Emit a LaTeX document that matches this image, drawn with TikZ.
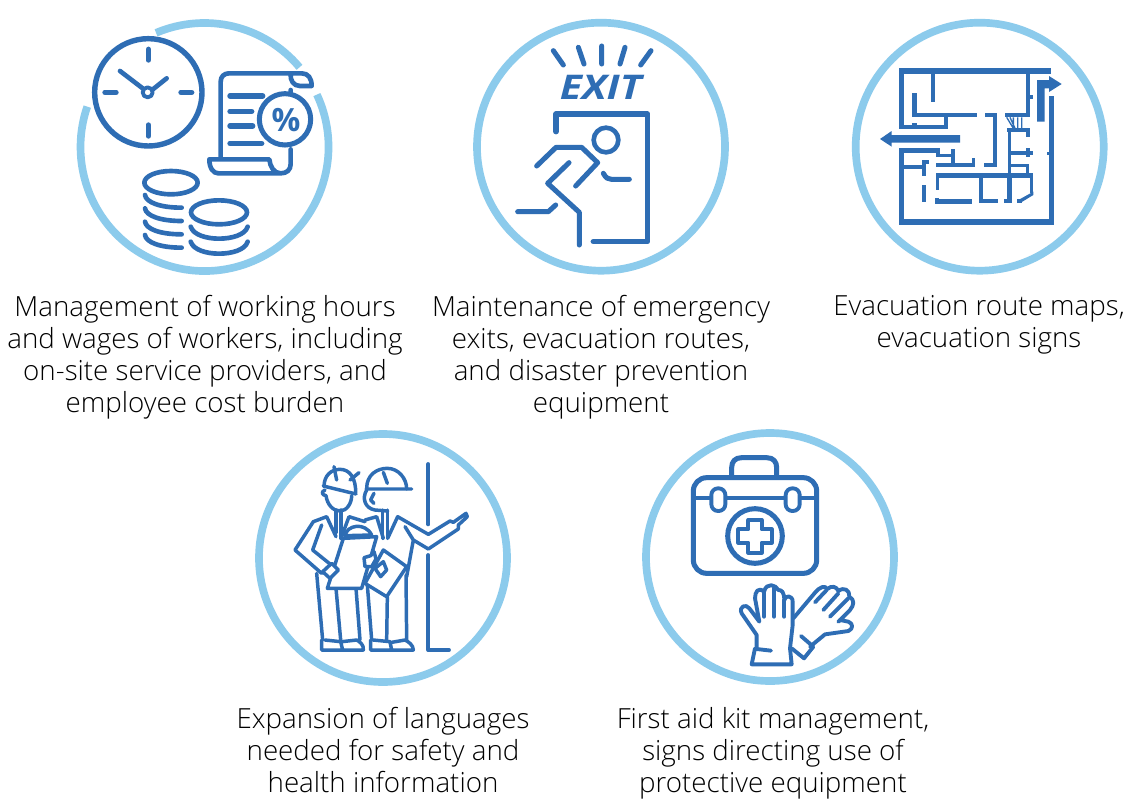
\documentclass[tikz,border=0pt]{standalone}
\usepackage{graphicx}
\usepackage{fontspec}
\setmainfont{Open Sans Light}[BoldFont={Open Sans Bold},BoldItalicFont={Open Sans Bold Italic}]
\definecolor{ic}{HTML}{2E6DB4}
\definecolor{rg}{HTML}{8CCBEC}
\tikzset{
 ring/.style={draw=rg,line width=5.75pt},
 ln/.style={draw=ic,line cap=round,line join=round,line width=#1*0.29pt},
 ln/.default=12,
 wall/.style={fill=ic},
 captxt/.style={align=center,anchor=center,font=\fontsize{20.8pt}{24pt}\selectfont,text=black,inner sep=0pt},
 icon/.style={x=0.25pt,y=-0.25pt}
}
\begin{document}
\begin{tikzpicture}[x=0.75pt,y=-0.75pt]
\useasboundingbox[fill=white] (0,0) rectangle (1126,803);
% rings
\coordinate (c1) at (204.5,147);
\draw[ring] ([shift={(-113:124)}]c1) arc[start angle=-113,end angle=-40,radius=124];
\draw[ring] ([shift={(-25:124)}]c1) arc[start angle=-25,end angle=199,radius=124];
\node[circle,ring,minimum size=186pt,inner sep=0pt] (r2) at (601,146.7) {};
\node[circle,ring,minimum size=186pt,inner sep=0pt] (r3) at (979.7,146.7) {};
\node[circle,ring,minimum size=186pt,inner sep=0pt] (r4) at (383,558) {};
\node[circle,ring,minimum size=186pt,inner sep=0pt] (r5) at (770,557) {};
% icon 1
\begin{scope}[shift={(70,10)},icon]
\draw[ln=14] (235,247) circle[radius=161];
\draw[ln=14] (235,118)--(235,150) (235,345)--(235,378) (105,247)--(138,247) (333,247)--(365,247);
\draw[ln=12] (150,183)--(218,235) (290,205)--(250,237);
\draw[ln=10] (233,247) circle[radius=15];
\draw[ln=12] (452,442)--(452,215) .. controls (452,200) and (462,190) .. (477,190)--(695,190) .. controls (715,190) and (725,205) .. (725,228)--(690,228) .. controls (670,228) and (660,210) .. (662,192);
\draw[ln=12] (662,240)--(662,250) (662,418)--(662,462) .. controls (662,480) and (650,490) .. (632,490)--(445,490) .. controls (430,490) and (418,475) .. (418,448)--(598,448) .. controls (600,470) and (612,490) .. (632,490);
\draw[ln=13] (645,328) circle[radius=77];
\node[font=\bfseries\fontsize{24pt}{24pt}\selectfont,text=ic,inner sep=0pt] (pct) at (648,330) {\%};
\draw[ln=14] (480,258)--(578,258) (480,304)--(545,304) (480,348)--(548,348) (480,400)--(575,400);
\draw[ln=12] (303,518) ellipse[x radius=80,y radius=35];
\foreach \y in {555,595,635,675}{
 \draw[ln=12] (225,\y) .. controls (228,\y+22) and (270,\y+38) .. (335,\y+38);}
\draw[ln=12] (447,607) ellipse[x radius=84,y radius=36];
\foreach \y in {650,695}{
 \draw[ln=12] (362,\y) .. controls (370,\y+25) and (410,\y+36) .. (447,\y+36) .. controls (485,\y+36) and (525,\y+25) .. (533,\y);}
\end{scope}
% icon 2
\begin{scope}[shift={(470,10)},icon]
\draw[ln=13] (250,122)--(280,165) (325,112)--(342,162) (395,108)--(395,162) (465,112)--(450,162) (543,122)--(512,165);
\node[font=\bfseries\itshape\fontsize{25.5pt}{25.5pt}\selectfont,text=ic,inner sep=0pt] (exit) at (392,232) {\scalebox{1.2}[1]{EXIT}};
\draw[ln=14] (258,365)--(258,312)--(533,312)--(533,695)--(370,695);
\draw[ln=12] (408,390) circle[radius=37];
\draw[ln=13] (200,468)--(258,412)--(335,412)--(383,458)--(317,528);
\draw[ln=13] (297,458)--(233,520)--(328,607)--(328,705);
\draw[ln=13] (400,490) .. controls (408,505) and (415,508) .. (425,508)--(478,508);
\draw[ln=13] (143,605)--(235,605)--(257,585);
\end{scope}
% icon 3
\begin{scope}[shift={(850,10)},icon]
\foreach \a/\b/\c/\d in {147/175/603/192,147/175/163/358,147/345/295/358,187/250/200/322,187/310/380/322,283/322/295/358,242/192/254/275,185/338/200/346,
 527/192/541/320,541/255/550/266,597/258/611/645,147/628/611/645,147/420/162/645,147/415/258/430,258/415/270/442,258/432/312/442,302/418/314/470,258/458/376/470,365/445/376/468,402/458/440/470,428/310/440/470,405/310/440/322,
 465/310/527/322,472/355/541/367,473/355/484/490,527/355/540/380,473/422/550/435,527/415/541/440,473/462/527/472,527/462/538/490,258/490/550/503,541/490/550/550,257/490/268/540,255/565/268/582,255/568/367/582,388/500/400/578,388/567/443/579,472/503/485/578,463/567/485/579,500/567/515/578,217/525/229/576,217/450/236/462,217/450/229/497,162/465/217/477,590/425/597/435}{
 \fill[wall] (\a,\b) rectangle (\c,\d);}
\fill[wall] (550,545)--(550,555)--(512,578)--(505,570)--cycle;
\draw[draw=ic,line width=1pt] (470,322)--(490,355) (490,322)--(490,355) (503,322)--(503,355) (515,322)--(515,355) (480,322)--(495,355);
\fill[wall] (561,335)--(561,210)--(597,210)--(597,198)--(635,222)--(597,246)--(597,235)--(584,235)--(584,335)--cycle;
\fill[wall] (330,375)--(125,375)--(125,363)--(90,387)--(125,410)--(125,398)--(330,398)--cycle;
\end{scope}
% icon 4
\begin{scope}[shift={(250,425)},icon]
\draw[ln=10] (535,117)--(535,298) (535,390)--(535,675)--(597,675);
% left worker
\draw[ln=9] (222,185) .. controls (222,150) and (245,133) .. (270,133) .. controls (300,133) and (318,160) .. (317,205);
\draw[ln=9] (220,183)--(318,207);
\draw[ln=9] (252,125)--(260,165) (327,143)--(300,165);
\draw[ln=9] (225,195) .. controls (213,200) and (215,210) .. (228,212) .. controls (232,240) and (250,258) .. (270,258) .. controls (290,258) and (305,235) .. (305,212);
\draw[ln=9] (258,255)--(258,322) (273,255)--(273,340);
\draw[ln=9] (258,335)--(230,275)--(190,290)--(135,375)--(215,445) (215,300)--(188,375)--(250,425);
\draw[ln=9] (273,340)--(297,275)--(345,290);
\draw[ln=9] (200,445)--(218,645) (258,490)--(272,645) (318,490)--(330,645);
\draw[ln=9] (215,645)--(215,675)--(278,675)--(272,650)--(225,645) (278,675)--(340,675) .. controls (342,660) and (330,650) .. (320,645)--(275,650);
% right worker
\draw[ln=9] (350,190) .. controls (350,150) and (380,130) .. (412,130) .. controls (445,130) and (470,160) .. (470,192);
\draw[ln=9] (348,192)--(485,192) (400,142)--(412,175);
\draw[ln=9] (350,195) .. controls (335,220) and (345,250) .. (375,255) -- (413,258) (372,205)--(362,225)--(372,235);
\draw[ln=9] (397,255)--(397,340) (413,255)--(413,340);
\draw[ln=9] (345,285)--(380,275)--(400,340) (413,340)--(443,275)--(535,328)--(600,288)--(610,292)--(648,265)--(652,275)--(625,300)--(625,312)--(535,372)--(490,345) (465,305)--(490,345)--(470,455);
\draw[ln=9] (352,480)--(365,645) (412,515)--(410,645) (468,450)--(470,645);
\draw[ln=9] (362,645)--(362,675)--(490,675) .. controls (490,660) and (475,650) .. (465,645)--(425,652) (425,675)--(420,650)--(370,645);
% clipboard
\draw[ln=9,fill=white] (285,332) .. controls (290,300) and (345,290) .. (365,330) --cycle;
\draw[ln=9,fill=white] (280,340)--(380,335)--(335,490)--(232,490)--cycle;
\draw[ln=9,fill=white] (400,375)--(470,425)--(410,515)--(345,475)--cycle;
\draw[ln=9,fill=white] (342,398)--(362,392)--(372,380)--(378,402)--(365,425)--(345,425)--cycle;
\draw[ln=9,fill=white] (375,430)--(400,410)--(410,435)--(392,455)--cycle;
\draw[ln=9,fill=white] (218,440)--(245,415)--(265,435)--(240,460)--cycle;
\end{scope}
% icon 5
\begin{scope}[shift={(640,425)},icon]
\draw[ln=13] (275,155)--(275,128) .. controls (275,110) and (285,98) .. (305,98)--(380,98) .. controls (400,98) and (410,110) .. (410,128)--(410,155);
\draw[ln=13,rounded corners=10pt] (160,158) rectangle (530,445);
\draw[ln=10] (160,218)--(530,218);
\draw[ln=10,fill=white,rounded corners=5pt] (214,190) rectangle (256,258);
\draw[ln=10,fill=white,rounded corners=5pt] (437,190) rectangle (479,258);
\draw[ln=13] (345,333) circle[radius=82];
\draw[ln=10] (325,285)--(365,285)--(365,313)--(395,313)--(395,353)--(365,353)--(365,383)--(325,383)--(325,353)--(295,353)--(295,313)--(325,313)--cycle;
% back glove
\draw[ln=10] (460,580)--(525,503) .. controls (540,485) and (555,480) .. (562,492) .. controls (575,480) and (590,485) .. (595,498) .. controls (612,485) and (630,495) .. (628,515) .. controls (645,525) and (642,540) .. (630,555)--(600,585)--(625,590) .. controls (640,595) and (640,612) .. (625,618)--(555,628)--(510,665);
\draw[ln=10] (483,633)--(520,665)--(492,700)--(455,670);
\draw[ln=10] (525,532)--(560,495) (550,555)--(595,505) (570,575)--(625,520) (595,590)--(600,585);
% front glove
\draw[ln=10] (345,670)--(335,718)--(455,718)--(450,670)--(458,600)--(458,530) .. controls (458,510) and (435,510) .. (433,525) .. controls (432,500) and (425,495) .. (415,495) .. controls (408,480) and (380,470) .. (372,500) .. controls (355,485) and (345,500) .. (345,520)--(358,590)--(328,550) .. controls (318,535) and (295,545) .. (305,565)--(350,630)--(350,672)--(393,677);
\draw[ln=10] (372,500)--(372,575) (402,490)--(402,575) (433,525)--(433,575);
\end{scope}
% captions
\node[captxt] (t1) at (205,357) {Management of working hours\\and wages of workers, including\\on-site service providers, and\\employee cost burden};
\node[captxt] (t2) at (601,357) {Maintenance of emergency\\exits, evacuation routes,\\and disaster prevention\\equipment};
\node[captxt] (t3) at (979,325) {Evacuation route maps,\\evacuation signs};
\node[captxt] (t4) at (383,750) {Expansion of languages\\needed for safety and\\health information};
\node[captxt] (t5) at (773,753) {First aid kit management,\\signs directing use of\\protective equipment};
\end{tikzpicture}
\end{document}
